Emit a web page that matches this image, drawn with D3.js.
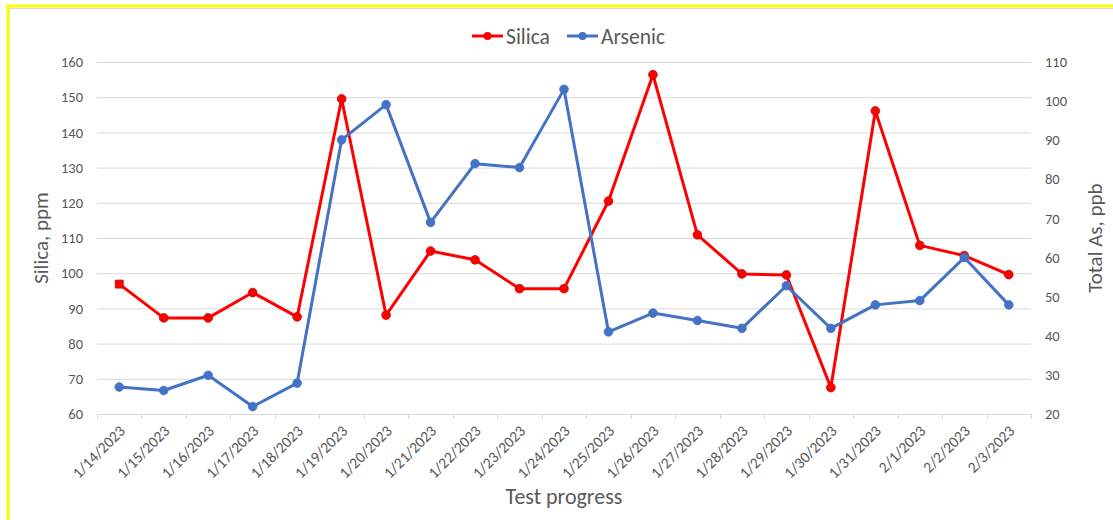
<!DOCTYPE html>
<html>
<head>
<meta charset="utf-8">
<script src="https://cdn.jsdelivr.net/npm/d3@7"></script>
<style>
  body { margin: 0; background: #fff; }
  svg text { font-family: Calibri, Carlito, "Liberation Sans", "Open Sans", sans-serif; fill: #595959; }
</style>
</head>
<body>
<script>
const dates = ["1/14/2023", "1/15/2023", "1/16/2023", "1/17/2023", "1/18/2023", "1/19/2023", "1/20/2023",
  "1/21/2023", "1/22/2023", "1/23/2023", "1/24/2023", "1/25/2023", "1/26/2023", "1/27/2023",
  "1/28/2023", "1/29/2023", "1/30/2023", "1/31/2023", "2/1/2023", "2/2/2023", "2/3/2023"];
const silica = [96.9, 87.3, 87.3, 94.5, 87.6, 149.5, 88.1, 106.3, 103.8, 95.6, 95.6, 120.5, 156.4,
  110.9, 99.8, 99.5, 67.5, 146.1, 107.9, 105.0, 99.6];
const arsenic = [26.9, 26.0, 29.9, 21.9, 27.9, 90.1, 99.1, 69.0, 84.0, 83.0, 103.0, 41.0, 45.8,
  43.9, 41.9, 52.8, 41.9, 47.9, 49.0, 60.0, 47.9];
const leftTicks = [60, 70, 80, 90, 100, 110, 120, 130, 140, 150, 160];
const rightTicks = [20, 30, 40, 50, 60, 70, 80, 90, 100, 110];

const width = 1113,
  height = 520,
  plot = { left: 97, right: 1031, top: 62, bottom: 414 };

const svg = d3.select("body")
  .append("svg")
  .attr("width", width)
  .attr("height", height);

// frame: yellow border with thin grey edge
svg.append("rect").attr("x", 9.5).attr("y", 8.5).attr("width", 1110).attr("height", 520)
  .attr("fill", "none").attr("stroke", "#d9d9d9").attr("stroke-width", 1);
svg.append("line").attr("x1", 8).attr("x2", 8).attr("y1", 5).attr("y2", 520)
  .attr("stroke", "#ffff00").attr("stroke-width", 3);
svg.append("line").attr("x1", 6.5).attr("x2", 1113).attr("y1", 6).attr("y2", 6)
  .attr("stroke", "#ffff00").attr("stroke-width", 3);

const x = d3.scaleBand().domain(dates).range([plot.left, plot.right]);
const yL = d3.scaleLinear().domain([60, 160]).range([plot.bottom, plot.top]);
const yR = d3.scaleLinear().domain([20, 110]).range([plot.bottom, plot.top]);

// gridlines
svg.append("g")
  .selectAll("line")
  .data(leftTicks)
  .join("line")
  .attr("x1", plot.left).attr("x2", plot.right)
  .attr("y1", d => yL(d) + 0.5).attr("y2", d => yL(d) + 0.5)
  .attr("stroke", "#d9d9d9").attr("stroke-width", 1);

// left axis labels
const leftAxis = svg.append("g")
  .attr("transform", `translate(${plot.left},0)`)
  .call(d3.axisLeft(yL).tickValues(leftTicks).tickSize(0).tickPadding(14));
leftAxis.select(".domain").remove();
leftAxis.selectAll("text").style("font-size", "14.5px").attr("fill", "#595959");

// right axis labels
const rightAxis = svg.append("g")
  .attr("transform", `translate(${plot.right},0)`)
  .call(d3.axisRight(yR).tickValues(rightTicks).tickSize(0).tickPadding(14));
rightAxis.select(".domain").remove();
rightAxis.selectAll("text").style("font-size", "14.5px").attr("fill", "#595959");

// x axis with category boundary ticks
const bounds = dates.map(d => x(d)).concat([plot.right]);
svg.append("g")
  .selectAll("line")
  .data(bounds)
  .join("line")
  .attr("x1", d => Math.round(d) + 0.5).attr("x2", d => Math.round(d) + 0.5)
  .attr("y1", plot.bottom).attr("y2", plot.bottom + 5)
  .attr("stroke", "#d9d9d9");

svg.append("g")
  .selectAll("text")
  .data(dates)
  .join("text")
  .attr("transform", d => `translate(${x(d) + x.bandwidth() / 2 + 3},${plot.bottom + 14}) rotate(-45)`)
  .attr("text-anchor", "end")
  .attr("dy", "0.35em")
  .style("font-size", "15.5px")
  .text(d => d);

// series
const series = [
  { name: "Silica", values: silica, y: yL, color: "#ff0000" },
  { name: "Arsenic", values: arsenic, y: yR, color: "#4472c4" }
];

series.forEach(s => {
  const line = d3.line()
    .x((d, i) => x(dates[i]) + x.bandwidth() / 2)
    .y(d => s.y(d));
  svg.append("path")
    .datum(s.values)
    .attr("fill", "none")
    .attr("stroke", s.color)
    .attr("stroke-width", 3)
    .attr("stroke-linejoin", "round")
    .attr("d", line);
});

// markers drawn after lines so Arsenic sits on top like the original
series.forEach(s => {
  svg.append("g")
    .selectAll("path")
    .data(s.values)
    .join("path")
    .attr("transform", (d, i) => `translate(${x(dates[i]) + x.bandwidth() / 2},${s.y(d)})`)
    .attr("d", (d, i) => s.name === "Silica" && i === 0
      ? d3.symbol(d3.symbolSquare, 64)()
      : d3.symbol(d3.symbolCircle, 60)())
    .attr("fill", s.color)
    .attr("stroke", s.name === "Silica" ? "#c00000" : s.color)
    .attr("stroke-width", 0.75);
});

// axis titles
svg.append("text")
  .attr("transform", `translate(48,${(plot.top + plot.bottom) / 2}) rotate(-90)`)
  .attr("text-anchor", "middle")
  .style("font-size", "21px")
  .text("Silica, ppm");

svg.append("text")
  .attr("transform", `translate(1102,${(plot.top + plot.bottom) / 2}) rotate(-90)`)
  .attr("text-anchor", "middle")
  .style("font-size", "21px")
  .text("Total As, ppb");

svg.append("text")
  .attr("x", (plot.left + plot.right) / 2)
  .attr("y", 504)
  .attr("text-anchor", "middle")
  .style("font-size", "22px")
  .text("Test progress");

// legend
const legend = svg.append("g").attr("transform", "translate(472,36)");
const legendItems = legend.selectAll("g")
  .data(series)
  .join("g")
  .attr("transform", (d, i) => `translate(${i * 95},0)`);
legendItems.append("line")
  .attr("x1", 0).attr("x2", 31).attr("y1", 0).attr("y2", 0)
  .attr("stroke", d => d.color).attr("stroke-width", 3);
legendItems.append("circle")
  .attr("cx", 15.5).attr("cy", 0).attr("r", 4)
  .attr("fill", d => d.color);
legendItems.append("text")
  .attr("x", 34).attr("y", 0).attr("dy", "0.35em")
  .style("font-size", "21.5px")
  .text(d => d.name);
</script>
</body>
</html>
